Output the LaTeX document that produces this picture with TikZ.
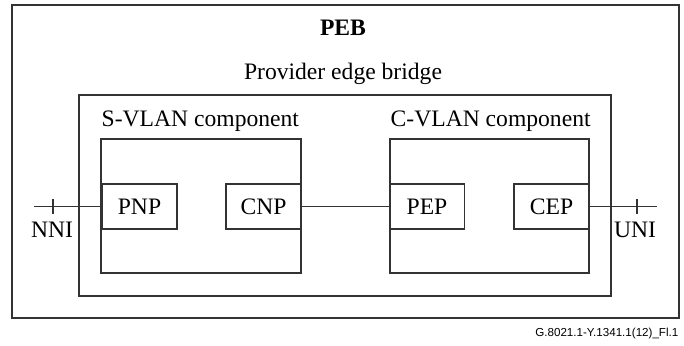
\documentclass[tikz,border=0pt]{standalone}
\usepackage{fontspec}
\setmainfont{Liberation Serif}
\newfontfamily\figfont{Liberation Sans}

\begin{document}
\begin{tikzpicture}[x=0.5pt,y=-0.5pt,line width=0.7pt]
  \definecolor{kLine}{rgb}{0.2,0.2,0.2}
  \tikzset{port/.style={draw=kLine,minimum width=37.5pt,minimum height=22.5pt,inner sep=0pt,font=\fontsize{11.8}{14}\selectfont}}
  \tikzset{lbl/.style={anchor=base,inner sep=0pt,font=\fontsize{11.8}{14}\selectfont}}

  \useasboundingbox (0,0) rectangle (684,345);

  % containers
  \draw[color=kLine] (12,5) rectangle (679,318);
  \draw[color=kLine] (79,95) rectangle (611,296);
  \draw[color=kLine] (101,139) rectangle (301,273);
  \draw[color=kLine] (390,139) rectangle (589,273);

  \node[lbl,font=\fontsize{11.8}{14}\selectfont\bfseries] (peb) at (343,35) {PEB};
  \node[lbl] (bridge) at (343,79) {Provider edge bridge};
  \node[lbl,anchor=base west] (svlan) at (101,126) {S-VLAN component};
  \node[lbl,anchor=base west] (cvlan) at (390,126) {C-VLAN component};

  % ports
  \foreach \n/\x in { pnp/139.5, cnp/263.5, pep/427, cep/551.5 }
    \node[port] (\n) at (\x,206.5) {\MakeUppercase{\n}};

  \coordinate (nni) at (34,206.5);
  \coordinate (uni) at (657,206.5);

  \draw[color=kLine] (nni) -- (pnp);
  \draw[color=kLine] (cnp) -- (pep);
  \draw[color=kLine] (cep) -- (uni);
  \draw[color=kLine] (53,199) -- (53,214);
  \draw[color=kLine] (637,199) -- (637,214);

  \node[lbl] (nnilbl) at (52,237) {NNI};
  \node[lbl] (unilbl) at (635,237) {UNI};

  \node[anchor=base east,inner sep=0pt,font=\figfont\fontsize{5.8}{7}\selectfont] (fig) at (679,336) {G.8021.1-Y.1341.1(12)\_Fl.1};
\end{tikzpicture}
\end{document}
